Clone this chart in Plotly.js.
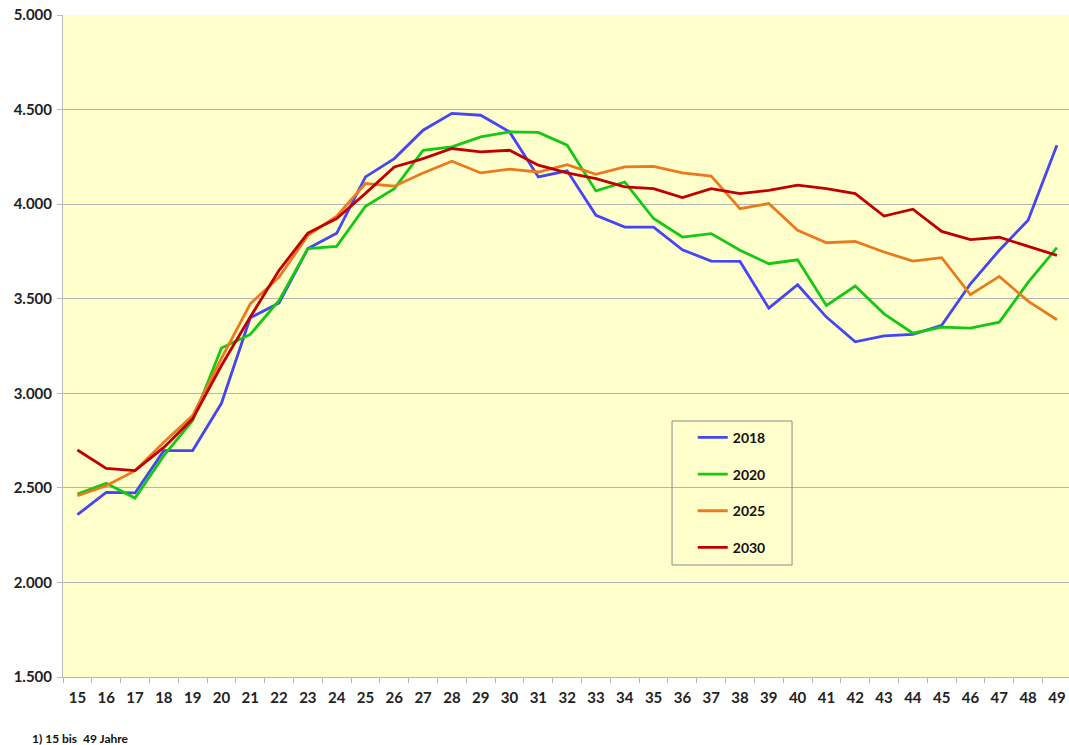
<!DOCTYPE html>
<html>
<head>
<meta charset="utf-8">
<script src="https://cdn.plot.ly/plotly-3.0.1.min.js"></script>
<style>
html,body{margin:0;padding:0;background:#fff;overflow:hidden;}
#chart{width:1069px;height:745px;}
</style>
</head>
<body>
<div id="chart"></div>
<script>
const ages = [15,16,17,18,19,20,21,22,23,24,25,26,27,28,29,30,31,32,33,34,35,36,37,38,39,40,41,42,43,44,45,46,47,48,49];
const v2018 = [2358,2476,2473,2697,2697,2947,3399,3477,3765,3846,4144,4241,4391,4480,4470,4382,4144,4176,3941,3879,3879,3759,3699,3697,3450,3574,3403,3272,3304,3311,3359,3579,3756,3915,4312];
const v2020 = [2467,2524,2446,2670,2856,3239,3311,3491,3765,3777,3989,4082,4285,4303,4356,4382,4379,4312,4070,4117,3924,3826,3844,3756,3685,3706,3464,3567,3420,3318,3350,3345,3376,3586,3770];
const v2025 = [2458,2511,2591,2741,2882,3184,3473,3614,3835,3936,4109,4095,4165,4227,4165,4185,4170,4209,4158,4197,4200,4165,4148,3976,4003,3862,3796,3803,3747,3699,3717,3521,3618,3487,3389];
const v2030 = [2700,2603,2591,2714,2865,3147,3403,3650,3847,3924,4057,4197,4241,4294,4276,4285,4206,4165,4135,4091,4082,4035,4082,4056,4073,4100,4082,4056,3937,3973,3856,3812,3825,3777,3729];
const seriesNames = ['2018','2020','2025','2030'];
const seriesColors = ['#4545F5','#14C814','#EA7A1E','#C00000'];
const seriesValues = [v2018, v2020, v2025, v2030];
const yTicks = [1500,2000,2500,3000,3500,4000,4500,5000];
const footnote = '1) 15 bis  49 Jahre';

const fontFam = 'Lato, "Open Sans", "Liberation Sans", sans-serif';
const traces = seriesNames.map((n,i)=>({
  type:'scatter', mode:'lines', name:n, x:ages, y:seriesValues[i],
  legendgroup:'g'+i,
  line:{color:seriesColors[i], width:2.8}
}));

const layout = {
  width:1069, height:745,
  margin:{l:63, r:0, t:15, b:68},
  paper_bgcolor:'#ffffff',
  plot_bgcolor:'#FFFFCC',
  separators:',.',
  font:{family:fontFam, size:15, color:'#222', weight:700},
  showlegend:true,
  legend:{
    x:0.626, y:0.3856, xanchor:'left', yanchor:'top',
    bgcolor:'rgba(0,0,0,0)', borderwidth:0,
    font:{family:fontFam, size:14, color:'#111', weight:700},
    traceorder:'grouped', tracegroupgap:15.5
  },
  xaxis:{
    range:[14.5, 49.42], tickvals:ages, ticktext:ages.map(String),
    ticks:'', showgrid:false, zeroline:false,
    showline:true, linecolor:'#b8b8b8', linewidth:1,
    ticklabelstandoff:7, ticklabeloverflow:'allow',
    tickfont:{family:fontFam, size:15, color:'#222', weight:700},
    minor:{ticks:'outside', tick0:14.5, dtick:1, ticklen:5, tickcolor:'#b8b8b8', showgrid:false},
    fixedrange:true
  },
  yaxis:{
    range:[1500,5000], tickvals:yTicks, tickformat:',d',
    ticks:'outside', ticklen:5, tickcolor:'#b8b8b8',
    ticklabelstandoff:2,
    showgrid:true, gridcolor:'#b4b4b4', gridwidth:1, zeroline:false,
    showline:true, linecolor:'#b8b8b8', linewidth:1,
    tickfont:{family:fontFam, size:15, color:'#222', weight:700},
    fixedrange:true
  },
  shapes:[{
    type:'rect', xref:'paper', yref:'paper',
    x0:0.6054, x1:0.7247, y0:0.1692, y1:0.3867,
    line:{color:'#8a8a8a', width:1}, fillcolor:'rgba(0,0,0,0)', layer:'above'
  }],
  annotations:[{
    text:footnote, xref:'paper', yref:'paper', x:-0.033, y:-0.0785,
    xanchor:'left', yanchor:'top', showarrow:false,
    font:{family:fontFam, size:12, color:'#111', weight:700}
  }]
};
Plotly.newPlot('chart', traces, layout, {displayModeBar:false, staticPlot:true});
</script>
</body>
</html>
